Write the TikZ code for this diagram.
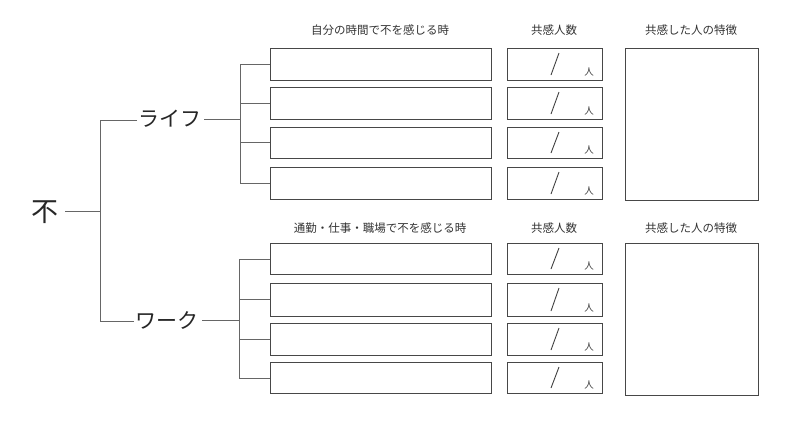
\documentclass[tikz,border=0pt]{standalone}
\usepackage{fontspec}
\newfontfamily\jp{Noto Sans CJK JP}
\begin{document}
\begin{tikzpicture}[x=1pt,y=-1pt,
  tline/.style={draw=black!60, line width=1pt},
  box/.style={draw=black!72, line width=1pt},
  hdr/.style={font=\jp\fontsize{11.5}{13}\selectfont, text=black!80},
  big/.style={font=\jp\fontsize{21}{24}\selectfont, text=black!85, inner sep=1pt},
  ppl/.style={font=\jp\fontsize{9.5}{11}\selectfont, text=black!75, inner sep=0pt}]
\useasboundingbox (0,0) rectangle (800,424);
% root and branches
\node[big, font=\jp\fontsize{27}{30}\selectfont] (root) at (45,212) {不};
\node[big, anchor=west] (life) at (137,119) {ライフ};
\node[big, anchor=west] (work) at (134,320) {ワーク};
\coordinate (rs) at (65,211);
\coordinate (rj) at (100,211);
\coordinate (lt) at (100,120);
\coordinate (wb) at (100,321);
\draw[tline] (rs) -- (rj);
\draw[tline] (life.west |- lt) -- (lt) -- (wb) -- (work.west |- wb);
% headers
\node[hdr] (h1) at (380,30) {自分の時間で不を感じる時};
\node[hdr] (h2) at (554,30) {共感人数};
\node[hdr] (h3) at (691,30) {共感した人の特徴};
\node[hdr] (h4) at (380,228) {通勤・仕事・職場で不を感じる時};
\node[hdr] (h5) at (554,228) {共感人数};
\node[hdr] (h6) at (691,228) {共感した人の特徴};
% feature boxes
\draw[box] (625,48) rectangle (758,200);
\draw[box] (625,243) rectangle (758,395);
% rows
\foreach \t/\b/\n in {48/80/a1,87/119/a2,127/158/a3,167/199/a4,243/274/b1,283/316/b2,323/355/b3,362/393/b4}{
  \draw[box] (270,\t) rectangle (491,\b);
  \draw[box] (507,\t) rectangle (602,\b);
  \draw[black!75, line width=0.9pt] (551,\b-5) -- (559,\t+5);
  \node[ppl] at (589,\b-8) {人};
}
% life tree
\coordinate (lj) at (240,119);
\draw[tline] (life.east) ++(2,0) -- (lj);
\draw[tline] (240,64) -- (240,183);
\foreach \y in {64,103,142,183}{\draw[tline] (240,\y) -- (270,\y);}
% work tree
\coordinate (wj) at (239,320);
\draw[tline] (work.east) ++(3,0) -- (wj);
\draw[tline] (239,259) -- (239,378);
\foreach \y in {259,299,339,378}{\draw[tline] (239,\y) -- (270,\y);}
\end{tikzpicture}
\end{document}
